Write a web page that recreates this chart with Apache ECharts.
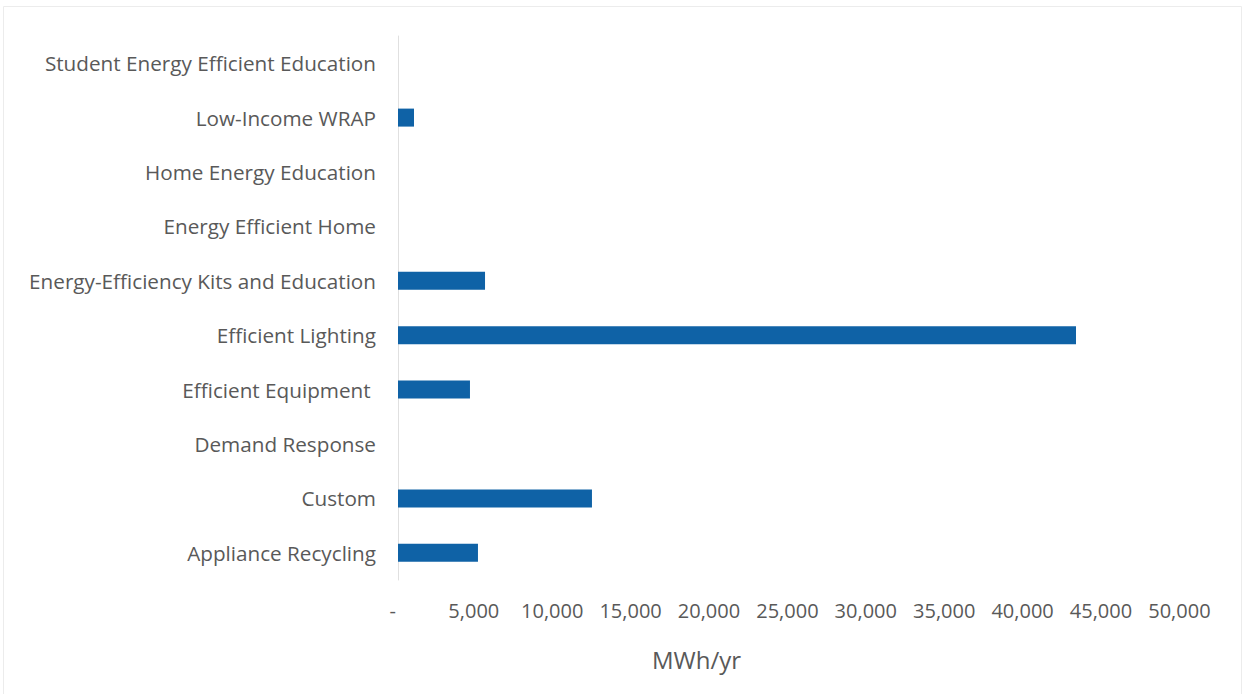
<!DOCTYPE html>
<html>
<head>
<meta charset="utf-8">
<script src="https://cdn.jsdelivr.net/npm/echarts@6/dist/echarts.min.js"></script>
<style>
html,body{margin:0;padding:0;background:#fff;}
#chart{width:1242px;height:694px;}
</style>
</head>
<body>
<div id="chart"></div>
<script>
const categories = [
  "Appliance Recycling",
  "Custom",
  "Demand Response",
  "Efficient Equipment ",
  "Efficient Lighting",
  "Energy-Efficiency Kits and Education",
  "Energy Efficient Home",
  "Home Energy Education",
  "Low-Income WRAP",
  "Student Energy Efficient Education"
];
const savingsMWh = [5100, 12370, 0, 4590, 43240, 5550, 0, 0, 1020, 0];
const xAxisMin = 0;
const xAxisMax = 50000;
const xAxisInterval = 5000;
const xAxisTitle = "MWh/yr";

const FONT = "Open Sans";
const chart = echarts.init(document.getElementById('chart'), null, {renderer: 'svg'});
chart.setOption({
  animation: false,
  backgroundColor: '#ffffff',
  grid: {left: 398, right: 60, top: 36, bottom: 114, containLabel: false},
  xAxis: {
    type: 'value',
    min: xAxisMin, max: xAxisMax, interval: xAxisInterval,
    axisLine: {show: false},
    axisTick: {show: false},
    splitLine: {show: false},
    axisLabel: {
      margin: 20,
      color: '#595959',
      fontFamily: FONT,
      fontSize: 20,
      formatter: v => v === 0 ? '-  ' : v.toLocaleString('en-US') + ' '
    }
  },
  yAxis: {
    type: 'category',
    data: categories,
    axisLine: {show: true, lineStyle: {color: '#e0e0e0', width: 1}},
    axisTick: {show: false},
    axisLabel: {margin: 22, color: '#595959', fontFamily: FONT, fontSize: 20.7}
  },
  series: [{
    type: 'bar',
    data: savingsMWh,
    barWidth: 18,
    itemStyle: {color: '#0f62a6'}
  }],
  graphic: [{
    type: 'text',
    left: 652, top: 647,
    style: {text: xAxisTitle, fill: '#595959', font: '24px ' + FONT}
  }, {
    type: 'rect',
    left: 1, top: 4,
    shape: {width: 1238, height: 688},
    style: {fill: 'none', stroke: '#ececec', lineWidth: 1}
  }]
});
</script>
</body>
</html>
